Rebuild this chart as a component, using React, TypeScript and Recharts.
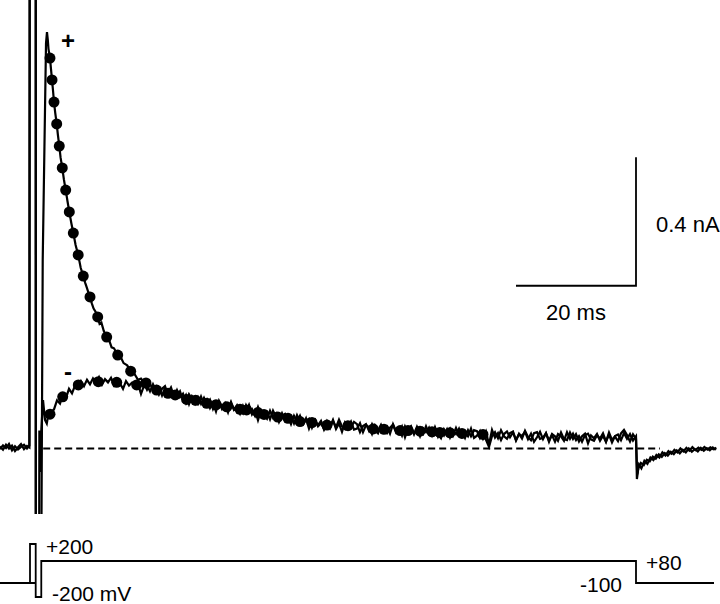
import React from "react";
import { ComposedChart, Line, Scatter, XAxis, YAxis, ReferenceLine } from "recharts";

// time in ms (0 = start of test pulse), current in pA
const SLOW_START = 18.5;
const SLOW_STEP = 0.5;

const plusPre = [[-6, -2], [-5.5, 10], [-5, 1], [-4.5, 14], [-4, -6], [-3.5, 7], [-3, -3], [-2.5, 5], [-2, 12], [-1.5, 0], [-1.1, 9]];
const plusTransient = [[-1.0, 3000], [-0.05, 3000], [-0.03, -700], [0.82, -700], [0.92, -201], [1.12, 588], [1.67, 1263], [1.83, 1297]];
const plusDecay = [
  [1.97, 1272], [2.08, 1245], [2.33, 1216], [2.5, 1182], [2.67, 1148], [2.85, 1112], [3.0, 1079], [3.2, 1046],
  [3.45, 1011], [3.65, 977], [3.88, 942], [4.1, 906], [4.38, 874], [4.65, 838], [4.95, 805], [5.25, 770],
  [5.55, 737], [5.9, 701], [6.22, 671], [6.6, 634], [7.03, 603], [7.45, 563], [7.88, 537], [8.2, 516],
  [8.4, 505], [8.7, 488], [9.0, 472], [9.3, 452], [9.6, 436], [9.95, 425], [10.28, 410], [10.6, 388],
  [10.9, 392], [11.3, 366], [11.78, 347], [12.2, 337], [12.6, 315], [13.0, 312], [13.62, 291], [14.1, 286],
  [14.6, 266], [15.2, 259], [15.78, 241], [16.3, 236], [17.0, 214], [17.5, 218], [18.0, 203],
];
const plusSlow = [
  183, 201, 184, 193, 168, 186, 194, 166, 176, 159,
  182, 160, 171, 143, 169, 154, 139, 160, 139, 158,
  138, 152, 123, 143, 145, 123, 135, 112, 142, 122,
  135, 115, 108, 135, 115, 123, 102, 129, 104, 110,
  114, 91, 118, 98, 89, 110, 89, 100, 76, 102,
  83, 102, 77, 87, 93, 65, 86, 73, 86, 59,
  79, 63, 86, 66, 90, 69, 60, 80, 65, 83,
  76, 51, 70, 76, 55, 76, 56, 47, 71, 58,
  48, 65, 74, 50, 61, 40, 69, 51, 65, 44,
  68, 50, 44, 69, 46, 54, 63, 37, 57, 41,
  60, 34, 56, 45, 62, 37, 51, 38, 62, 33,
  40, 55, 31, 52, 12, 58, 34, 48, 26, 45,
  53, 35, 50, 26, 45, 39, 52, 29, 46, 21,
  35, 52, 29, 47, 25, 42, 21, 45, 38, 24,
  51, 30, 46, 26, 39, 21, 42, 46, 28, 24,
  41, 31, 47, 22, 43, 19, 39, 44, 26, 48,
  30, 45, 25,
];
const plusTail = [
  [100.0, 38], [100.2, -80], [100.5, -50], [100.9, -62], [101.4, -38], [101.9, -48], [102.4, -28], [102.9, -36],
  [103.4, -20], [103.9, -28], [104.4, -12], [104.9, -22], [105.4, -8], [105.9, -16], [106.4, -4], [106.9, -12],
  [107.4, 0], [107.9, -9], [108.4, 2], [108.9, -7], [109.4, 4], [109.9, -5], [110.4, 3], [110.9, -4],
  [111.4, 5], [111.9, -3], [112.4, 4], [112.9, -2], [113.4, 2],
];

const minusPre = [[-6, 6], [-5.5, -4], [-5, 12], [-4.5, 0], [-4, 9], [-3.5, -8], [-3, 4], [-2.5, 14], [-2, -2], [-1.5, 8], [-1.1, 3]];
const minusTransient = [[-1.0, 3000], [-0.05, 3000], [-0.03, -700], [0.5, -700], [0.56, 56], [0.7, 30], [0.78, -73], [0.9, 60], [1.17, 151], [1.5, 89]];
const minusEarly = [
  [1.8, 78], [2.0, 100], [2.5, 112], [3.0, 122], [3.5, 150], [4.0, 140], [4.5, 168], [5.0, 158], [5.5, 186],
  [6.0, 172], [6.5, 196], [7.0, 188], [7.5, 210], [8.0, 194], [8.5, 214], [9.0, 200], [9.5, 218], [10.0, 204],
  [10.5, 222], [11.0, 199], [11.5, 216], [12.0, 206], [12.5, 220], [13.0, 197], [13.5, 214], [14.0, 203],
  [14.5, 186], [15.0, 210], [15.5, 196], [16.0, 205], [16.5, 190], [17.0, 202], [17.5, 170], [18.0, 196],
];
const minusSlow = [
  198, 178, 200, 180, 189, 165, 189, 174, 190, 162,
  163, 178, 150, 167, 138, 164, 155, 139, 162, 137,
  152, 126, 143, 115, 149, 131, 142, 119, 145, 120,
  127, 108, 133, 115, 136, 106, 120, 88, 118, 105,
  93, 118, 96, 109, 82, 102, 108, 86, 101, 78,
  104, 84, 75, 94, 62, 86, 91, 69, 79, 61,
  85, 67, 89, 61, 78, 52, 81, 68, 84, 59,
  62, 79, 51, 73, 66, 45, 72, 56, 74, 51,
  67, 46, 76, 54, 48, 68, 35, 62, 70, 47,
  59, 38, 63, 51, 65, 41, 67, 44, 32, 60,
  47, 62, 40, 64, 42, 52, 33, 57, 38, 57,
  54, 32, 47, 27, 5, 38, 51, 32, 57, 38,
  30, 48, 53, 25, 46, 31, 55, 36, 26, 48,
  51, 30, 33, 48, 21, 45, 38, 24, 50, 29,
  26, 50, 30, 45, 22, 38, 46, 16, 41, 32,
  45, 24, 40, 20, 50, 27, 37, 23, 47, 58,
  42, 22, 44,
];
const minusTail = [
  [100.0, 30], [100.15, -95], [100.4, -60], [100.8, -45], [101.3, -52], [101.8, -35], [102.3, -40], [102.8, -25],
  [103.3, -32], [103.8, -18], [104.3, -26], [104.8, -14], [105.3, -22], [105.8, -10], [106.3, -18], [106.8, -6],
  [107.3, -15], [107.8, -4], [108.3, -12], [108.8, 0], [109.3, -10], [109.8, -2], [110.3, -9], [110.8, 2],
  [111.3, -7], [111.8, 1], [112.3, -6], [112.8, 3], [113.3, -4],
];

// exponential fits, shown as markers
const plusFit = [
  [2.33, 1216], [2.67, 1148], [3.0, 1079], [3.45, 1011], [3.88, 942], [4.38, 874], [4.95, 805], [5.55, 737],
  [6.22, 671], [7.03, 603], [7.88, 537], [9.0, 472], [10.28, 410], [11.78, 347], [13.62, 291], [15.78, 241],
  [18.33, 204], [22, 172], [26.6, 150], [30, 136], [34, 122], [38, 106], [42, 94], [46, 81], [52, 71],
  [58, 60], [62, 56], [66, 52], [69, 49],
];
const minusFit = [
  [2.33, 107], [4.45, 161], [7.05, 198], [10.38, 208], [13.45, 206], [16.78, 198], [20.1, 182], [23.2, 167],
  [25.1, 153], [28.45, 141], [31.8, 130], [35.1, 120], [37, 112], [40.3, 98], [44, 84], [48.5, 73],
  [56.2, 61], [60.7, 56], [64, 54], [67.3, 50], [71, 47], [74.5, 44],
];

const baselineSpan = [1.2, 104];
const scaleBar = [[80, 507], [100, 507], [100, 907]];

// voltage protocol, schematic levels (not to scale)
const protocol = [
  [-6, 0], [-0.05, 0], [-1.0, 0], [-1.0, 39], [-0.05, 39], [-0.05, -14], [0.88, -14], [0.88, 22],
  [100, 22], [100, 0], [113, 0],
];

const pts = (pairs: number[][]) => pairs.map(([t, i]) => ({ t, i }));
const slow = (vals: number[]) => vals.map((i, k) => ({ t: SLOW_START + k * SLOW_STEP, i }));

const plusData = [...pts(plusPre), ...pts(plusTransient), ...pts(plusDecay), ...slow(plusSlow), ...pts(plusTail)];
const minusData = [...pts(minusPre), ...pts(minusTransient), ...pts(minusEarly), ...slow(minusSlow), ...pts(minusTail)];

const FONT = "'Liberation Sans', Arial, sans-serif";

const Dot = (p: any) => <circle cx={p.cx} cy={p.cy} r={5.5} fill="#000" />;

function Label({ x, y, text, center, size = 21, bold }: { x: number; y: number; text: string; center?: boolean; size?: number; bold?: boolean }) {
  return (
    <div
      style={{
        position: "absolute",
        left: x,
        top: y,
        transform: center ? "translate(-50%, -50%)" : "translateY(-50%)",
        fontFamily: FONT,
        fontSize: size,
        fontWeight: bold ? 700 : 400,
        lineHeight: 1,
        whiteSpace: "nowrap",
        color: "#000",
      }}
    >
      {text}
    </div>
  );
}

export default function App() {
  return (
    <div style={{ position: "absolute", left: 0, top: 0, width: 720, height: 604, background: "#fff", overflow: "hidden" }}>
      <div style={{ position: "absolute", left: 0, top: 0 }}>
        <ComposedChart width={720} height={514} margin={{ top: 0, right: 0, bottom: 0, left: 0 }}>
          <XAxis type="number" dataKey="t" domain={[-6, 114]} allowDataOverflow hide />
          <YAxis type="number" domain={[-204, 1397]} allowDataOverflow hide />
          <ReferenceLine
            segment={[{ x: baselineSpan[0], y: 0 }, { x: baselineSpan[1], y: 0 }]}
            stroke="#000"
            strokeWidth={1.8}
            strokeDasharray="7 4"
          />
          <Line data={minusData} dataKey="i" type="linear" stroke="#000" strokeWidth={2.2} dot={false} activeDot={false} isAnimationActive={false} />
          <Line data={plusData} dataKey="i" type="linear" stroke="#000" strokeWidth={2.2} dot={false} activeDot={false} isAnimationActive={false} />
          <Scatter data={pts(minusFit)} dataKey="i" shape={Dot} isAnimationActive={false} />
          <Scatter data={pts(plusFit)} dataKey="i" shape={Dot} isAnimationActive={false} />
          <Line data={pts(scaleBar)} dataKey="i" type="linear" stroke="#000" strokeWidth={1.8} dot={false} activeDot={false} isAnimationActive={false} />
        </ComposedChart>
      </div>
      <div style={{ position: "absolute", left: 0, top: 514 }}>
        <ComposedChart width={720} height={90} margin={{ top: 0, right: 0, bottom: 0, left: 0 }}>
          <XAxis type="number" dataKey="t" domain={[-6, 114]} allowDataOverflow hide />
          <YAxis type="number" domain={[-21, 69]} allowDataOverflow hide />
          <Line data={pts(protocol)} dataKey="i" type="linear" stroke="#000" strokeWidth={1.8} dot={false} activeDot={false} isAnimationActive={false} />
        </ComposedChart>
      </div>
      <Label x={68} y={41} text="+" center size={24} bold />
      <Label x={68} y={372} text="-" center size={24} bold />
      <Label x={656} y={225} text="0.4 nA" size={22} />
      <Label x={546} y={313} text="20 ms" size={22} />
      <Label x={46} y={546} text="+200" />
      <Label x={52} y={593} text="-200 mV" />
      <Label x={580} y={584} text="-100" />
      <Label x={646} y={562} text="+80" />
    </div>
  );
}
